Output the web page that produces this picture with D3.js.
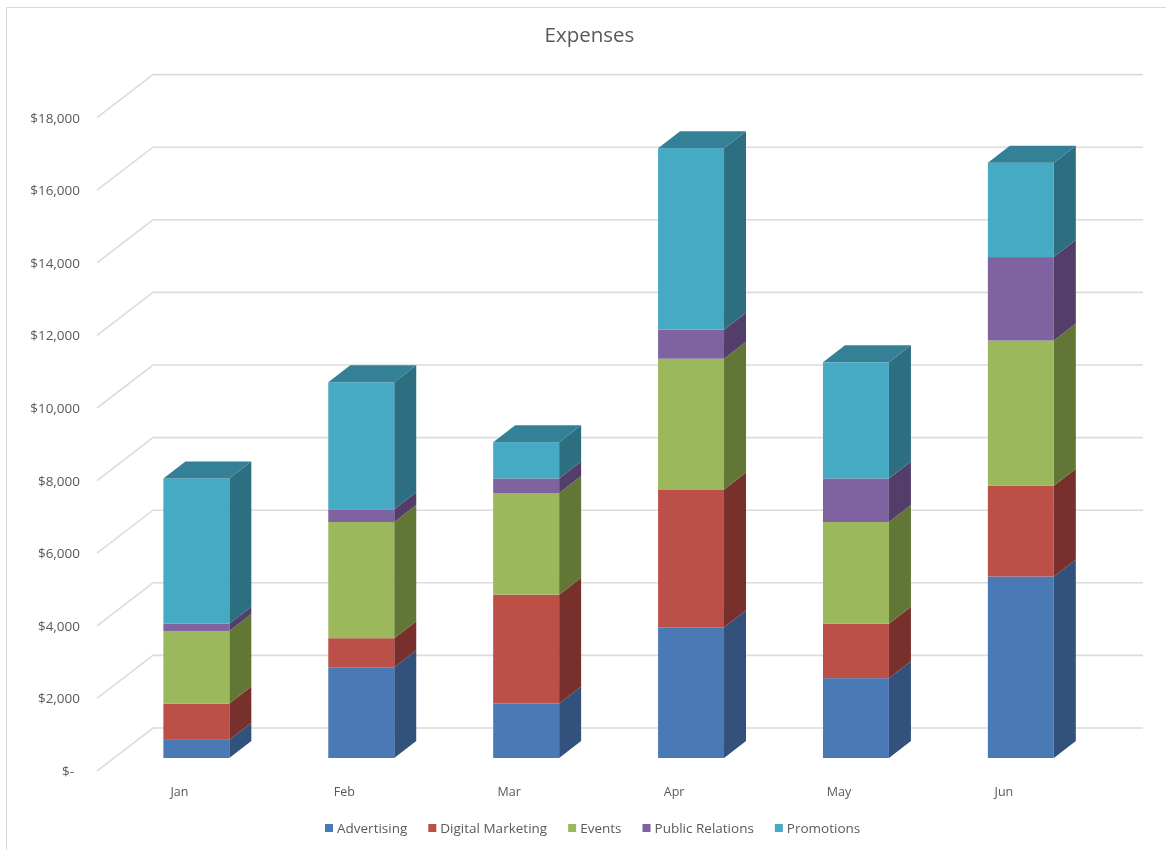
<!DOCTYPE html>
<html><head><meta charset="utf-8">
<script src="https://cdn.jsdelivr.net/npm/d3@7"></script>
<style>
html,body{margin:0;padding:0;background:#fff}
svg{display:block;filter:blur(0.4px)}
text{font-family:"Open Sans",sans-serif;fill:#595959}
</style></head><body>
<svg id="chart" width="1166" height="850"></svg>
<script>
const months = ["Jan","Feb","Mar","Apr","May","Jun"];
const seriesNames = ["Advertising","Digital Marketing","Events","Public Relations","Promotions"];
const advertising = [500,2500,1500,3600,2200,5000];
const digitalMarketing = [1000,800,3000,3800,1500,2500];
const events = [2000,3200,2800,3600,2800,4000];
const publicRelations = [200,350,400,800,1200,2300];
const promotions = [4000,3500,1000,5000,3200,2600];
const tickValues = [0,2000,4000,6000,8000,10000,12000,14000,16000,18000];
const frontColors = ["#4a7ab5","#bd4f49","#9bb85c","#7f62a0","#46aac4"];
const sideColors = ["#32527b","#78302c","#627636","#533e6a","#2d6f80"];
const topColor = "#348097";

const seriesValues = [advertising,digitalMarketing,events,publicRelations,promotions];
const rows = months.map((m,i)=>{
  const r={month:m};
  seriesNames.forEach((s,k)=>r[s]=seriesValues[k][i]);
  return r;
});
const stacked = d3.stack().keys(seriesNames)(rows);

const svg = d3.select("#chart");
const dx = 22, dy = -17;               // bar depth
const y = d3.scaleLinear().domain([0,18000]).range([758,104.6]);   // plane of the bar fronts
const x = d3.scaleBand().domain(months).range([113.9,1103.3]).paddingInner(0.6).paddingOuter(0.3);

// frame
svg.append("path").attr("d","M1166,7.5H6.5V850").attr("fill","none").attr("stroke","#d9d9d9").attr("stroke-width",1);

// title
svg.append("text").attr("x",589.5).attr("y",42).attr("text-anchor","middle").attr("font-size",20.5).text("Expenses");

// gridlines: floor-side diagonal and back wall
const wallX0 = 153, wallX1 = 1143, frontX = 97, backOff = -30, frontOff = 13;
const gridLine = d3.line();
svg.append("g").selectAll("path").data(tickValues).join("path")
  .attr("d",v=>gridLine([[frontX,y(v)+frontOff],[wallX0,y(v)+backOff],[wallX1,y(v)+backOff]]))
  .attr("fill","none").attr("stroke","#dcdcdc").attr("stroke-width",1.6);

// y tick labels
const fmt = v => v===0 ? "$-" : "$"+d3.format(",")(v);
svg.append("g").selectAll("text").data(tickValues).join("text")
  .attr("x",v=>v===0?74:80).attr("y",v=>y(v)+frontOff+5)
  .attr("text-anchor","end").attr("font-size",13.5).text(fmt);

// x labels
svg.append("g").selectAll("text").data(months).join("text")
  .attr("x",m=>x(m)+x.bandwidth()/4-0.4).attr("y",796)
  .attr("text-anchor","middle").attr("font-size",12.5).text(d=>d);

// bars
const bars = svg.append("g");
const poly = pts => "M"+pts.map(p=>p.join(",")).join("L")+"Z";
stacked.forEach((layer,k)=>{
  const g = bars.append("g");
  g.selectAll("path.side").data(layer).join("path").attr("class","side")
    .attr("d",d=>{
      const r=x(d.data.month)+x.bandwidth(), a=y(d[0]), b=y(d[1]);
      return poly([[r,a],[r+dx,a+dy],[r+dx,b+dy],[r,b]]);
    }).attr("fill",sideColors[k]);
  g.selectAll("rect").data(layer).join("rect")
    .attr("x",d=>x(d.data.month)).attr("width",x.bandwidth())
    .attr("y",d=>y(d[1])).attr("height",d=>y(d[0])-y(d[1]))
    .attr("fill",frontColors[k]);
});
bars.append("g").selectAll("path").data(stacked[stacked.length-1]).join("path")
  .attr("d",d=>{
    const l=x(d.data.month), r=l+x.bandwidth(), t=y(d[1]);
    return poly([[l,t],[l+dx,t+dy],[r+dx,t+dy],[r,t]]);
  }).attr("fill",topColor);

// legend
const legend = svg.append("g");
let lx = 325;
seriesNames.forEach((s,k)=>{
  legend.append("rect").attr("x",lx).attr("y",824).attr("width",8).attr("height",8).attr("fill",frontColors[k]);
  const t = legend.append("text").attr("x",lx+12).attr("y",833).attr("font-size",13.5).text(s);
  lx += 12 + t.node().getComputedTextLength() + 21;
});
</script>
</body></html>
